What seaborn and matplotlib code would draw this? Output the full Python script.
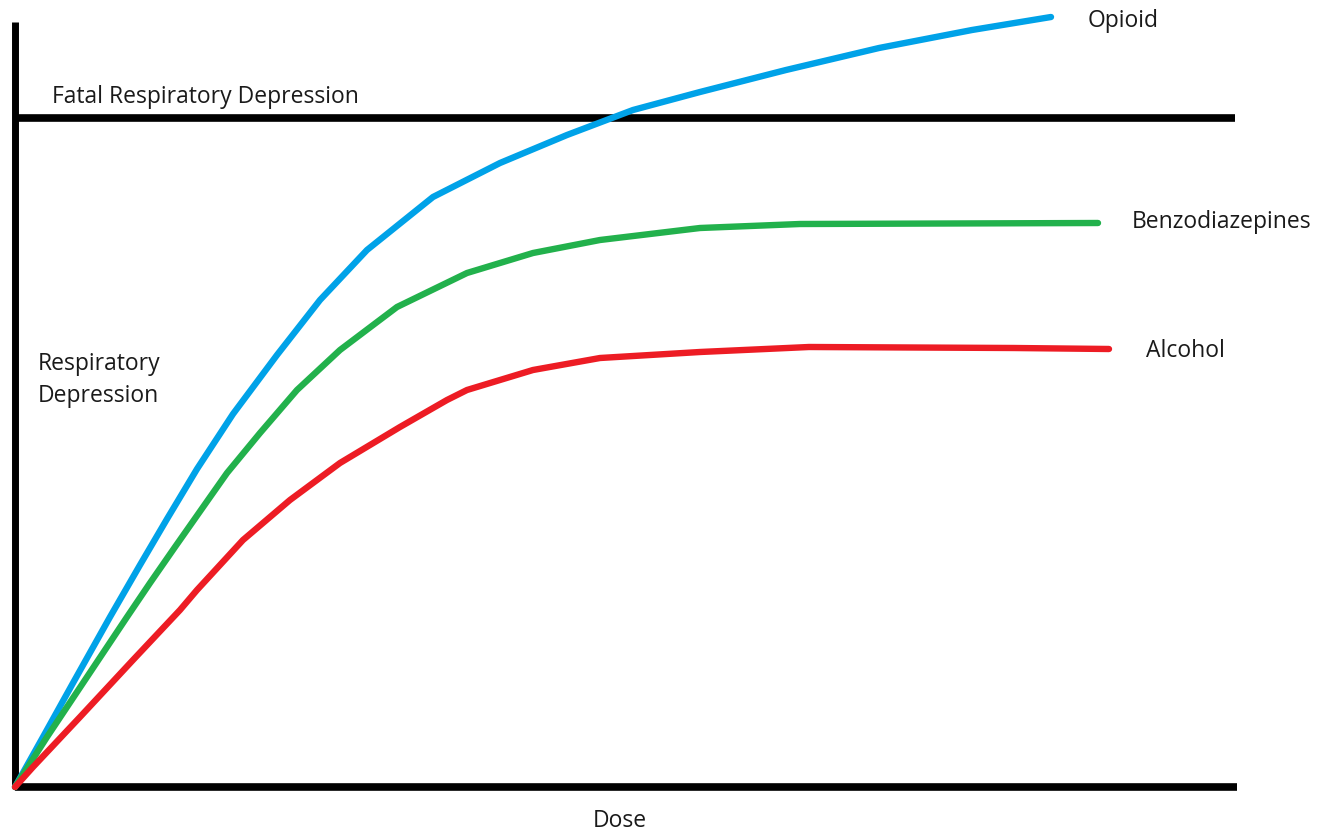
import numpy as np
import pandas as pd
import matplotlib
matplotlib.use("Agg")
import matplotlib.pyplot as plt
import seaborn as sns

# Data (arbitrary units: dose vs respiratory depression)
opioid_dose = [0, 28, 58, 95, 125, 152, 182, 218, 262, 305, 352, 418, 485, 552, 618, 685, 771, 864, 957, 1036]
opioid_resp = [0, 50, 104, 170, 222, 268, 318, 373, 432, 487, 537, 590, 624, 652, 677, 695, 717, 739, 757, 770]

benzo_dose = [0, 32, 72, 112, 135, 160, 193, 212, 245, 282, 325, 382, 452, 518, 585, 685, 785, 1083]
benzo_resp = [0, 50, 110, 170, 204, 240, 287, 314, 354, 397, 437, 480, 514, 534, 547, 559, 563, 564]

alcohol_dose = [0, 18, 65, 118, 165, 182, 228, 275, 325, 385, 432, 452, 518, 585, 685, 794, 999, 1094]
alcohol_resp = [0, 20, 70, 127, 177, 197, 247, 287, 324, 360, 387, 397, 417, 429, 435, 440, 439, 438]

fatal_level = 669
x_axis_end = 1222
y_axis_top = 765

drugs = ["Opioid", "Benzodiazepines", "Alcohol"]
colors = {"Opioid": "#00A2E8", "Benzodiazepines": "#22B14C", "Alcohol": "#ED1C24"}

df = pd.concat([
    pd.DataFrame({"dose": opioid_dose, "resp": opioid_resp, "drug": "Opioid"}),
    pd.DataFrame({"dose": benzo_dose, "resp": benzo_resp, "drug": "Benzodiazepines"}),
    pd.DataFrame({"dose": alcohol_dose, "resp": alcohol_resp, "drug": "Alcohol"}),
], ignore_index=True)

sns.set_theme(style="white")
plt.rcParams["font.family"] = ["Open Sans", "DejaVu Sans"]

fig = plt.figure(figsize=(13.28, 8.35), dpi=100)
ax = fig.add_axes([0, 0, 1, 1])
ax.set_xlim(-15, 1313)
ax.set_ylim(-48, 787)
ax.axis("off")

# axes lines
ax.plot([0, 0], [0, y_axis_top], color="black", lw=5, solid_capstyle="butt", zorder=1)
ax.plot([0, x_axis_end], [0, 0], color="black", lw=5.5, solid_capstyle="butt", zorder=1)
ax.plot([0, x_axis_end - 2], [fatal_level, fatal_level], color="black", lw=5.5,
        solid_capstyle="butt", zorder=1)

sns.lineplot(data=df, x="dose", y="resp", hue="drug", hue_order=drugs,
             palette=colors, linewidth=4.6, legend=False, sort=False,
             estimator=None, ax=ax, zorder=3)
for line in ax.lines[3:]:
    line.set_solid_capstyle("round")
    line.set_solid_joinstyle("round")

tc = "#1a1a1a"
fs = 16.5
ax.text(37, 684, "Fatal Respiratory Depression", fontsize=fs, color=tc,
        ha="left", va="baseline")
ax.text(23, 417, "Respiratory", fontsize=fs, color=tc, ha="left", va="baseline")
ax.text(23, 385, "Depression", fontsize=fs, color=tc, ha="left", va="baseline")
ax.text(605, -40, "Dose", fontsize=fs, color=tc, ha="center", va="baseline")

label_pos = {"Opioid": (1073, 760),
             "Benzodiazepines": (1117, 559),
             "Alcohol": (1131, 430)}
for d in drugs:
    x, y = label_pos[d]
    ax.text(x, y, d, fontsize=fs, color=tc, ha="left", va="baseline")

fig.savefig("out.png", dpi=100, facecolor="white")
